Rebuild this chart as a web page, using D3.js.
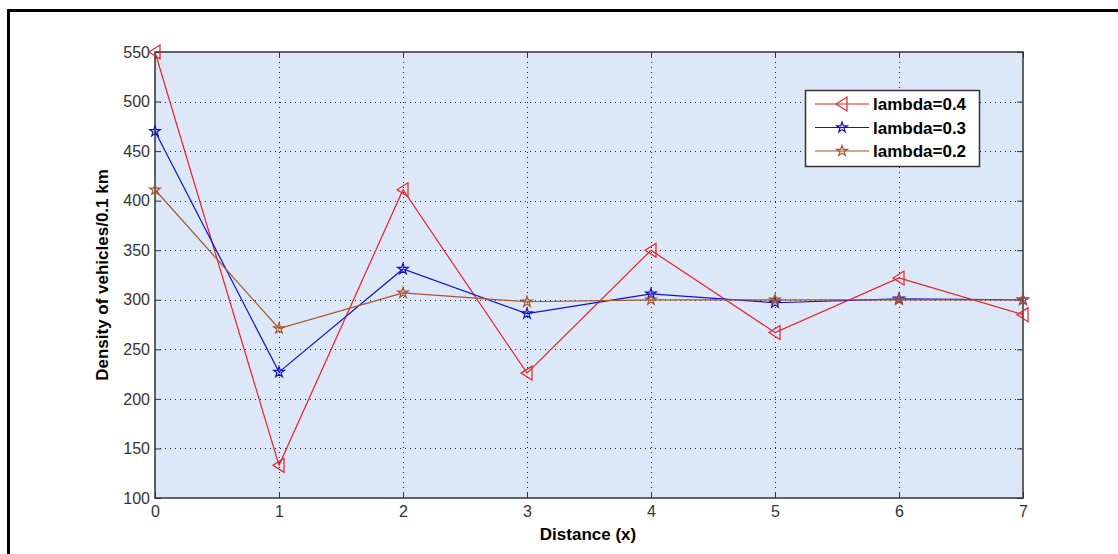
<!DOCTYPE html>
<html>
<head>
<meta charset="utf-8">
<title>Density of vehicles</title>
<style>
  body { margin: 0; background: #fff; }
  svg { display: block; font-family: Arial, "Liberation Sans", sans-serif; }
</style>
</head>
<body>
<div id="chart"></div>
<script src="https://cdn.jsdelivr.net/npm/d3@7"></script>
<script>
(function(d3) {
  'use strict';

  var distance = [0, 1, 2, 3, 4, 5, 6, 7];
  var lambda04 = [550, 133, 411, 226, 350, 267, 322, 285];
  var lambda03 = [470, 227, 331, 286, 306, 297, 301, 300];
  var lambda02 = [411, 271, 307, 298, 300, 300, 300, 300];
  var seriesNames = ['lambda=0.4', 'lambda=0.3', 'lambda=0.2'];
  var yTicks = [100, 150, 200, 250, 300, 350, 400, 450, 500, 550];

  var W = 1118, H = 554;
  var left = 155, right = 1023, top = 52, bottom = 498;

  var series = [
    { name: seriesNames[0], values: lambda04, color: '#e8202a', marker: 'tri' },
    { name: seriesNames[1], values: lambda03, color: '#1010d0', marker: 'star' },
    { name: seriesNames[2], values: lambda02, color: '#a8552a', marker: 'star' }
  ];

  var x = d3.scaleLinear().domain([0, 7]).range([left, right]);
  var y = d3.scaleLinear().domain([100, 550]).range([bottom, top]);

  var svg = d3.select('#chart').append('svg')
    .attr('width', W).attr('height', H);

  // outer frame
  svg.append('rect')
    .attr('x', 8.5).attr('y', 10.5)
    .attr('width', W + 20).attr('height', H + 20)
    .attr('fill', 'none').attr('stroke', '#000').attr('stroke-width', 3);

  svg.append('rect')
    .attr('x', left).attr('y', top)
    .attr('width', right - left).attr('height', bottom - top)
    .attr('fill', '#dce8f7');

  // grid
  var grid = svg.append('g')
    .attr('stroke', '#222').attr('stroke-width', 1)
    .attr('stroke-dasharray', '1,4');
  grid.selectAll('.gy').data(yTicks.slice(1, -1)).enter().append('line')
    .attr('x1', left).attr('x2', right)
    .attr('y1', function(d) { return Math.round(y(d)) + 0.5; })
    .attr('y2', function(d) { return Math.round(y(d)) + 0.5; });
  grid.selectAll('.gx').data(distance.slice(1, -1)).enter().append('line')
    .attr('y1', top).attr('y2', bottom)
    .attr('x1', function(d) { return Math.round(x(d)) + 0.5; })
    .attr('x2', function(d) { return Math.round(x(d)) + 0.5; });

  // axes
  var axisColor = '#333';
  function styleAxis(g) {
    g.select('.domain').remove();
    g.selectAll('line').attr('stroke', axisColor);
    g.selectAll('text').attr('fill', '#333').style('font-size', '16px');
  }
  svg.append('g').attr('transform', 'translate(0,' + bottom + ')')
    .call(d3.axisBottom(x).tickValues(distance).tickSize(-6).tickPadding(8)
      .tickFormat(d3.format('d')))
    .call(styleAxis);
  svg.append('g').attr('transform', 'translate(0,' + top + ')')
    .call(d3.axisTop(x).tickValues(distance).tickSize(-6).tickFormat(''))
    .call(styleAxis);
  svg.append('g').attr('transform', 'translate(' + left + ',0)')
    .call(d3.axisLeft(y).tickValues(yTicks).tickSize(-6).tickPadding(5))
    .call(styleAxis);
  svg.append('g').attr('transform', 'translate(' + right + ',0)')
    .call(d3.axisRight(y).tickValues(yTicks).tickSize(-6).tickFormat(''))
    .call(styleAxis);

  svg.append('rect')
    .attr('x', left).attr('y', top)
    .attr('width', right - left).attr('height', bottom - top)
    .attr('fill', 'none').attr('stroke', axisColor).attr('stroke-width', 1.5);

  // markers
  var triPath = 'M-6,0L5,-7L5,7Z';
  var starPath = d3.symbol().type(d3.symbolStar).size(35)();
  function drawMarker(g, s) {
    g.append('path')
      .attr('d', s.marker === 'tri' ? triPath : starPath)
      .attr('fill', 'none').attr('stroke', s.color).attr('stroke-width', 1.2);
  }

  var line = d3.line()
    .x(function(d, i) { return x(distance[i]); })
    .y(function(d) { return y(d); });

  series.forEach(function(s) {
    var g = svg.append('g');
    g.append('path').datum(s.values)
      .attr('d', line)
      .attr('fill', 'none').attr('stroke', s.color).attr('stroke-width', 1.2);
    g.selectAll('.m').data(s.values).enter().append('g')
      .attr('transform', function(d, i) {
        return 'translate(' + x(distance[i]) + ',' + y(d) + ')';
      })
      .each(function() { drawMarker(d3.select(this), s); });
  });

  // legend
  var lg = svg.append('g').attr('transform', 'translate(805,90)');
  lg.append('rect').attr('x', 0.5).attr('y', 0.5)
    .attr('width', 174).attr('height', 76)
    .attr('fill', '#fff').attr('stroke', '#333').attr('stroke-width', 1.5);
  series.forEach(function(s, i) {
    var row = lg.append('g').attr('transform', 'translate(0,' + (14 + i * 23.5) + ')');
    row.append('line').attr('x1', 10).attr('x2', 64)
      .attr('stroke', s.color).attr('stroke-width', 1.2);
    var mk = row.append('g').attr('transform', 'translate(37,0)');
    drawMarker(mk, s);
    row.append('text').attr('x', 68).attr('y', 6)
      .style('font-size', '17px').style('font-weight', 'bold')
      .attr('fill', '#000').text(s.name);
  });

  // axis titles
  svg.append('text')
    .attr('x', 588).attr('y', 540)
    .attr('text-anchor', 'middle')
    .style('font-size', '17px').style('font-weight', 'bold')
    .text('Distance (x)');
  svg.append('text')
    .attr('transform', 'translate(108,' + ((top + bottom) / 2) + ') rotate(-90)')
    .attr('text-anchor', 'middle')
    .style('font-size', '17px').style('font-weight', 'bold')
    .text('Density of vehicles/0.1 km');

})(window.d3);
</script>
</body>
</html>
